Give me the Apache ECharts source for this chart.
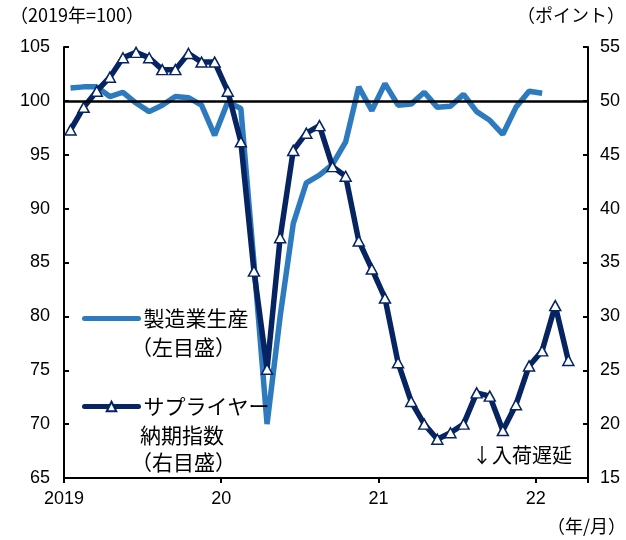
<!DOCTYPE html>
<html>
<head>
<meta charset="utf-8">
<script src="https://cdn.jsdelivr.net/npm/echarts@6/dist/echarts.min.js"></script>
<style>
  html, body { margin: 0; padding: 0; background: #fff; }
  #chart { width: 626px; height: 540px; }
</style>
</head>
<body>
<div id="chart"></div>
<script>
// Monthly categories, Jan 2019 – Apr 2022
const months = [];
for (let y = 2019; y <= 2022; y++) {
  for (let m = 1; m <= 12; m++) {
    if (y === 2022 && m > 4) break;
    months.push(y + '/' + m);
  }
}

// Manufacturing production index (2019 = 100), left axis
const production = [
  101.2, 101.3, 101.3, 100.4, 100.8, 99.8, 99.0, 99.6, 100.4, 100.3, 99.6, 96.8,
  99.9, 99.3, 85.0, 70.0, 80.0, 88.6, 92.4, 93.1, 94.1, 96.2, 101.3, 99.1,
  101.6, 99.6, 99.7, 100.8, 99.4, 99.5, 100.6, 99.0, 98.2, 96.9, 99.4, 100.9,
  100.7
];

// Supplier deliveries index (points), right axis
const deliveries = [
  47.3, 49.4, 50.9, 52.2, 54.0, 54.5, 54.0, 52.9, 52.9, 54.4, 53.6, 53.6,
  50.9, 46.2, 34.2, 25.1, 37.3, 45.4, 47.0, 47.7, 43.9, 43.0, 37.0, 34.4,
  31.7, 25.7, 22.1, 20.0, 18.6, 19.2, 20.0, 22.9, 22.6, 19.4, 21.8, 25.4,
  26.8, 31.0, 25.9
];

const leftTicks = { min: 65, max: 105, step: 5 };
const rightTicks = { min: 15, max: 55, step: 5 };
const baseLevel = 100;

const LIGHT = '#2e7abf';
const NAVY = '#062462';
const JP = '"Noto Sans CJK JP", "Noto Sans", sans-serif';
const NUM = '"Liberation Sans", Arial, sans-serif';

function yearLabel(cat) {
  const [y, m] = cat.split('/');
  if (m !== '1') return '';
  return y === '2019' ? y : y.slice(2);
}

const chart = echarts.init(document.getElementById('chart'), null, { renderer: 'canvas' });

chart.setOption({
  animation: false,
  backgroundColor: '#fff',
  grid: { left: 64, right: 38, top: 47, bottom: 62 },
  xAxis: {
    type: 'category',
    data: months,
    boundaryGap: true,
    axisLine: { lineStyle: { color: '#000', width: 2 } },
    axisTick: {
      show: true,
      length: 5,
      interval: (i) => i % 12 === 0,
      lineStyle: { color: '#000', width: 2 }
    },
    axisLabel: {
      interval: (i) => i % 12 === 0,
      formatter: (v) => yearLabel(v),
      color: '#000',
      fontFamily: NUM,
      fontSize: 18,
      margin: 12,
      padding: [0, 13, 0, 0]
    },
    splitLine: { show: false }
  },
  yAxis: [
    {
      type: 'value',
      min: leftTicks.min, max: leftTicks.max, interval: leftTicks.step,
      axisLine: { show: true, lineStyle: { color: '#000', width: 2 } },
      axisTick: { show: true, inside: true, length: 5, lineStyle: { color: '#000', width: 2 } },
      axisLabel: { color: '#000', fontFamily: NUM, fontSize: 18, margin: 14 },
      splitLine: { show: false }
    },
    {
      type: 'value',
      min: rightTicks.min, max: rightTicks.max, interval: rightTicks.step,
      position: 'right',
      axisLine: { show: true, lineStyle: { color: '#000', width: 2 } },
      axisTick: { show: true, inside: true, length: 5, lineStyle: { color: '#000', width: 2 } },
      axisLabel: { color: '#000', fontFamily: NUM, fontSize: 18, margin: 12 },
      splitLine: { show: false }
    }
  ],
  legend: {
    orient: 'vertical',
    left: 82,
    top: 308,
    padding: 0,
    itemWidth: 54,
    itemHeight: 12,
    itemGap: 67,
    data: [
      { name: '製造業生産', itemStyle: { opacity: 0 }, lineStyle: { width: 5, cap: 'round' } },
      { name: 'サプライヤー納期指数', lineStyle: { width: 5, cap: 'round' } }
    ],
    formatter: (name) => name === '製造業生産' ? '製造業生産' : 'サプライヤー',
    textStyle: { color: '#000', fontFamily: JP, fontSize: 21 }
  },
  graphic: [
    { type: 'text', left: 10, top: 6, style: { text: '（2019年=100）', font: '18px ' + JP, fill: '#000' } },
    { type: 'text', right: 1, top: 6, style: { text: '（ポイント）', font: '18px ' + JP, fill: '#000' } },
    { type: 'text', right: 0, top: 517, style: { text: '（年/月）', font: '18px ' + JP, fill: '#000' } },
    { type: 'text', left: 472, top: 445, style: { text: '↓入荷遅延', font: '20px ' + JP, fill: '#000' } },
    { type: 'text', left: 131, top: 337, style: { text: '（左目盛）', font: '21px ' + JP, fill: '#000' } },
    { type: 'text', left: 140, top: 425, style: { text: '納期指数', font: '21px ' + JP, fill: '#000' } },
    { type: 'text', left: 131, top: 452, style: { text: '（右目盛）', font: '21px ' + JP, fill: '#000' } }
  ],
  series: [
    {
      name: '製造業生産',
      type: 'line',
      yAxisIndex: 0,
      data: production,
      symbol: 'none',
      lineStyle: { color: LIGHT, width: 5.5 },
      itemStyle: { color: LIGHT },
      z: 2,
      markLine: {
        silent: true,
        symbol: 'none',
        label: { show: false },
        lineStyle: { color: '#000', width: 2.5, type: 'solid' },
        data: [{ yAxis: baseLevel }]
      }
    },
    {
      name: 'サプライヤー納期指数',
      type: 'line',
      yAxisIndex: 1,
      data: deliveries,
      symbol: 'triangle',
      symbolSize: [11, 10],
      showAllSymbol: true,
      lineStyle: { color: NAVY, width: 5.5 },
      itemStyle: { color: '#fff', borderColor: NAVY, borderWidth: 1.5 },
      z: 3
    }
  ]
});
</script>
</body>
</html>
